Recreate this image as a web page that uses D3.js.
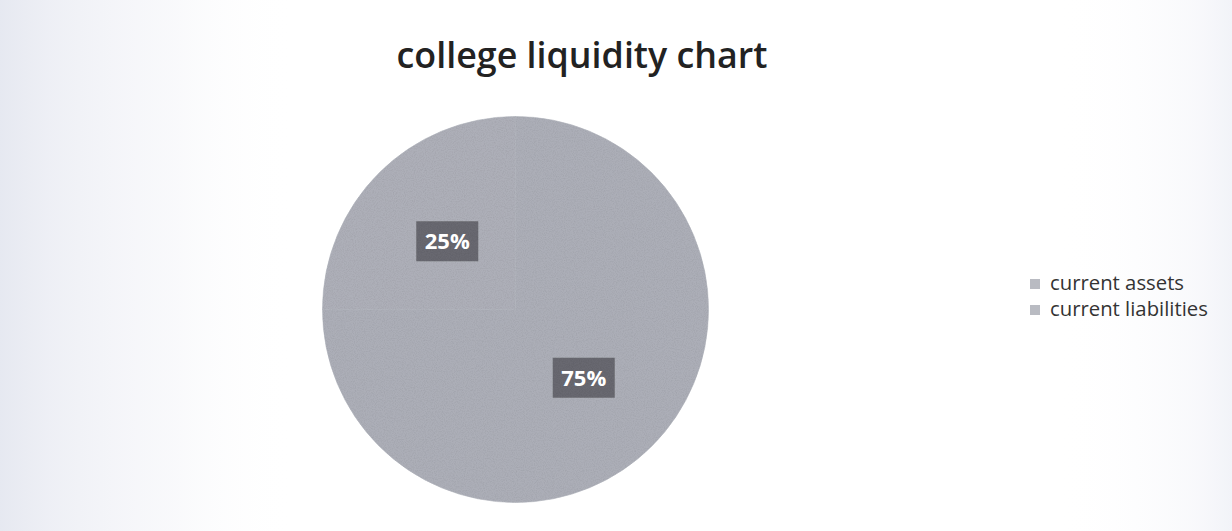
<!DOCTYPE html>
<html>
<head>
<meta charset="utf-8">
<script src="https://cdn.jsdelivr.net/npm/d3@7"></script>
<style>
  html, body { margin: 0; padding: 0; background: #fff; }
  svg { display: block; }
</style>
</head>
<body>
<svg id="chart" width="1232" height="531"></svg>
<script>
// Chart data
const categories = ["current assets", "current liabilities"];
const values = [75, 25];
const labels = ["75%", "25%"];
const title = "college liquidity chart";

const W = 1232, H = 531;
const svg = d3.select("#chart");
const defs = svg.append("defs");

// Paper haze along the left and right edges
const haze = defs.append("linearGradient").attr("id", "haze")
  .attr("x1", "0").attr("x2", "1").attr("y1", "0").attr("y2", "0");
[[0, "#e3e6ef", 0.9], [0.04, "#e8eaf2", 0.75], [0.14, "#f1f2f7", 0.45], [0.24, "#ffffff", 0],
 [0.86, "#ffffff", 0], [0.97, "#f2f3f8", 0.5], [1, "#eceef5", 0.7]]
  .forEach(([o, c, a]) => haze.append("stop").attr("offset", o).attr("stop-color", c).attr("stop-opacity", a));
svg.append("rect").attr("width", W).attr("height", H).attr("fill", "#fff");
svg.append("rect").attr("width", W).attr("height", H).attr("fill", "url(#haze)");

// Grain used on the pie and label boxes
const grain = defs.append("filter").attr("id", "grain")
  .attr("x", "0").attr("y", "0").attr("width", "1").attr("height", "1");
grain.append("feTurbulence").attr("type", "fractalNoise")
  .attr("baseFrequency", 0.9).attr("numOctaves", 2).attr("seed", 3).attr("result", "noise");
grain.append("feColorMatrix").attr("in", "noise").attr("type", "matrix")
  .attr("values", "0 0 0 0 0  0 0 0 0 0  0 0 0 0 0  0 0 0 -1.2 0.75").attr("result", "dots");
grain.append("feComposite").attr("in", "dots").attr("in2", "SourceGraphic").attr("operator", "in").attr("result", "dotsIn");
grain.append("feComponentTransfer").attr("in", "dotsIn").attr("result", "soft")
  .append("feFuncA").attr("type", "linear").attr("slope", 0.22);
const gm = grain.append("feMerge");
gm.append("feMergeNode").attr("in", "SourceGraphic");
gm.append("feMergeNode").attr("in", "soft");

// Title
const titleText = svg.append("text")
  .attr("x", 582).attr("y", 68)
  .attr("text-anchor", "middle")
  .attr("font-family", "'Open Sans', sans-serif")
  .attr("font-weight", 600)
  .attr("font-size", 40)
  .attr("fill", "#222222")
  .text(title);

function fitWidth(sel, target) {
  const fs = +sel.attr("font-size");
  const w = sel.node().getComputedTextLength();
  sel.attr("font-size", (fs * target / w).toFixed(2));
}
fitWidth(titleText, 371);

// Pie
const cx = 515.5, cy = 309.5, radius = 193;
const color = d3.scaleOrdinal().domain(categories).range(["#acaeb7", "#adafb8"]);
const pie = d3.pie().sort(null).value(d => d.value);
const arcs = pie(categories.map((c, i) => ({ name: c, value: values[i], label: labels[i] })));
const arc = d3.arc().innerRadius(0).outerRadius(radius);
const labelArc = d3.arc().innerRadius(radius * 0.5).outerRadius(radius * 0.5);

const g = svg.append("g").attr("transform", `translate(${cx},${cy})`);
g.selectAll("path.slice").data(arcs).join("path")
  .attr("class", "slice")
  .attr("d", arc)
  .attr("fill", d => color(d.data.name))
  .attr("stroke", "#afb1ba")
  .attr("stroke-width", 0.6)
  .attr("filter", "url(#grain)");

// Data labels on dark boxes
const lab = g.selectAll("g.lab").data(arcs).join("g")
  .attr("class", "lab")
  .attr("transform", d => `translate(${labelArc.centroid(d)})`);
lab.append("rect")
  .attr("x", -31).attr("y", -20).attr("width", 62).attr("height", 40)
  .attr("fill", "#67686f")
  .attr("filter", "url(#grain)");
lab.append("text")
  .attr("text-anchor", "middle")
  .attr("y", 8)
  .attr("font-family", "'Open Sans', sans-serif")
  .attr("font-weight", "bold")
  .attr("font-size", 22)
  .attr("fill", "#ffffff")
  .text(d => d.data.label);

// Legend
const legendY = d3.scalePoint().domain(categories).range([284, 310]);
const leg = svg.append("g").selectAll("g").data(categories).join("g")
  .attr("transform", d => `translate(1030,${legendY(d)})`);
leg.append("rect")
  .attr("x", 0).attr("y", -5).attr("width", 10).attr("height", 10)
  .attr("fill", "#b9bbc2");
const legText = leg.append("text")
  .attr("x", 20).attr("y", 6)
  .attr("font-family", "'Open Sans', sans-serif")
  .attr("font-size", 18)
  .attr("fill", "#333333")
  .text(d => d);
fitWidth(d3.select(legText.nodes()[1]), 158);
d3.select(legText.nodes()[0]).attr("font-size", d3.select(legText.nodes()[1]).attr("font-size"));
</script>
</body>
</html>
